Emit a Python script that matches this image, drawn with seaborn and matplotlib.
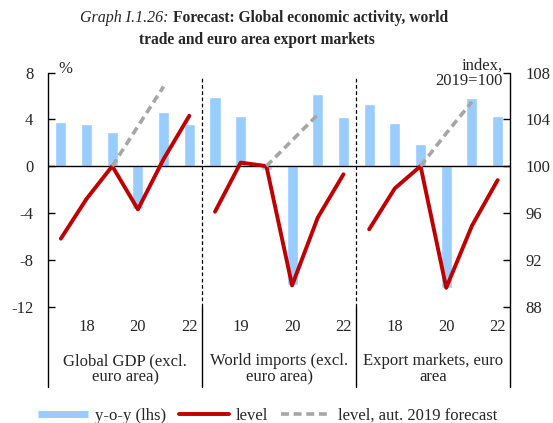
import numpy as np
import pandas as pd
import matplotlib.pyplot as plt
from matplotlib.lines import Line2D
import seaborn as sns

# data (level: index 2019=100, y-o-y in %)
groups = ['Global GDP (excl.\neuro area)', 'World imports (excl.\neuro area)', 'Export markets, euro\narea']
years = [2017, 2018, 2019, 2020, 2021, 2022]
year_labels = [['18', '20', '22'], ['19', '20', '22'], ['18', '20', '22']]

yoy_gdp = [3.8, 3.6, 2.9, -3.7, 4.6, 3.6]
yoy_imp = [5.9, 4.3, -0.3, -10.2, 6.2, 4.2]
yoy_exp = [5.3, 3.7, 1.9, -10.4, 5.8, 4.3]

level_gdp = [93.8, 97.2, 100.0, 96.3, 100.6, 104.3]
level_imp = [96.1, 100.3, 100.0, 89.8, 95.6, 99.3]
level_exp = [94.6, 98.1, 100.0, 89.6, 94.9, 98.8]

# autumn 2019 forecast, 2019-2021 only
fc_gdp = [np.nan, np.nan, 100.0, 103.4, 106.8, np.nan]
fc_imp = [np.nan, np.nan, 100.0, 102.2, 104.4, np.nan]
fc_exp = [np.nan, np.nan, 100.0, 102.8, 105.5, np.nan]

rows = []
for gi, (y, l, f) in enumerate([(yoy_gdp, level_gdp, fc_gdp),
                                 (yoy_imp, level_imp, fc_imp),
                                 (yoy_exp, level_exp, fc_exp)]):
    for yi, yr in enumerate(years):
        rows.append({'group': gi, 'year': yr, 'pos': gi * 6 + yi,
                     'yoy': y[yi], 'level': l[yi], 'forecast': f[yi]})
df = pd.DataFrame(rows)

sns.set_style('white')
plt.rcParams['font.family'] = ['Liberation Serif', 'DejaVu Serif']
plt.rcParams['axes.unicode_minus'] = False

BLUE = '#99CCFF'
RED = '#C00000'
GREY = '#A6A6A6'

fig = plt.figure(figsize=(5.53, 4.23), dpi=100)
ax = fig.add_axes([0.0868, 0.2754, 0.8363, 0.5532])
ax2 = ax.twinx()

sns.barplot(data=df, x='pos', y='yoy', native_scale=True, width=0.43,
            color=BLUE, saturation=1, errorbar=None, ax=ax, zorder=2)
ax.axhline(0, color='black', lw=1, zorder=3)

for gi in range(3):
    sub = df[df['group'] == gi]
    sns.lineplot(data=sub, x='pos', y='level', ax=ax2, color=RED, lw=2.8,
                 legend=False)
    fc = sub.dropna(subset=['forecast'])
    sns.lineplot(data=fc, x='pos', y='forecast', ax=ax2, color=GREY, lw=2.6,
                 linestyle=(0, (2.2, 1.3)), legend=False)

ax.set_xlim(-0.5, 17.5)
ax.set_ylim(-12, 8)
ax2.set_ylim(88, 108)
ax.set_yticks(range(-12, 9, 4))
ax2.set_yticks(range(88, 109, 4))
ax.set_xticks([])
ax.set_xlabel('')
ax.set_ylabel('')
ax2.set_ylabel('')
ax2.set_xlabel('')

for a in (ax, ax2):
    for s in a.spines.values():
        s.set_visible(False)
ax.tick_params(axis='y', left=True, direction='in', length=5, width=1,
               color='black', pad=10.5, labelsize=12)
ax2.tick_params(axis='y', right=True, direction='in', length=5, width=1,
                color='black', pad=10.5, labelsize=12)

# axis lines reaching down through the category labels
bottom = -0.344
for x in (0, 1):
    ax.add_line(Line2D([x, x], [bottom, 1], transform=ax.transAxes,
                       color='black', lw=1, clip_on=False))
xt = ax.get_xaxis_transform()
for b in (5.5, 11.5):
    ax.add_line(Line2D([b, b], [0, 0.98], transform=xt, color='black', lw=0.9,
                       linestyle=(0, (3, 2)), clip_on=False))
    ax.add_line(Line2D([b, b], [bottom, 0], transform=xt, color='black', lw=1,
                       clip_on=False))

for gi in range(3):
    for yi, lab in zip([1, 3, 5], year_labels[gi]):
        ax.text(gi * 6 + yi, -0.088, lab, transform=xt, ha='center',
                va='center', fontsize=12)
    ax.text(gi * 6 + 2.5, -0.268, groups[gi], transform=xt, ha='center',
            va='center', fontsize=12, linespacing=1.0)

ax.text(0.022, 1.015, '%', transform=ax.transAxes, ha='left', va='center',
        fontsize=12)
ax.text(0.984, 0.996, 'index,\n2019=100', transform=ax.transAxes, ha='right',
        va='center', fontsize=12, linespacing=1.0)

# title: italic label + bold text
fig.text(169 / 553, 1 - 18 / 423, 'Graph I.1.26:', ha='right', va='center',
         style='italic', fontsize=11.5)
fig.text(173 / 553, 1 - 18 / 423, 'Forecast: Global economic activity, world',
         ha='left', va='center', weight='bold', fontsize=11.2)
fig.text(257 / 553, 1 - 40 / 423, 'trade and euro area export markets',
         ha='center', va='center', weight='bold', fontsize=11.2)

handles = [Line2D([0], [0], color=BLUE, lw=5, solid_capstyle='butt'),
           Line2D([0], [0], color=RED, lw=2.8),
           Line2D([0], [0], color=GREY, lw=2.6, linestyle=(0, (2.2, 1.3)))]
fig.legend(handles, ['y-o-y (lhs)', 'level', 'level, aut. 2019 forecast'],
           loc='center', bbox_to_anchor=(0.484, 7 / 423), ncol=3,
           frameon=False, fontsize=12, handlelength=3.0, handletextpad=0.4,
           columnspacing=0.8)

fig.savefig('out.png', dpi=100)
